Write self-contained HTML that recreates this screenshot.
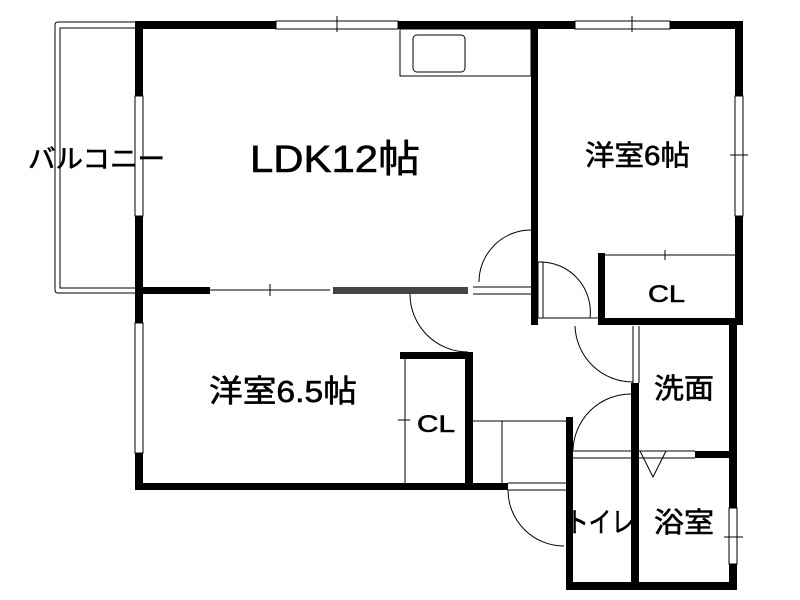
<!DOCTYPE html>
<html><head><meta charset="utf-8"><style>
html,body{margin:0;padding:0;background:#fff;width:800px;height:600px;overflow:hidden}
svg text{font-family:"Liberation Sans","Noto Sans CJK JP",sans-serif;fill:#000}
</style></head><body>
<svg width="800" height="600" viewBox="0 0 800 600" xmlns="http://www.w3.org/2000/svg">
<g fill="none" stroke="#000" stroke-width="1">
<path d="M135 22 H58 Q55 22 55 25 V290 Q55 293 58 293 H135"/>
<path d="M135 28 H60 V288 H135"/>
<rect x="400" y="29" width="131" height="47"/>
<rect x="413" y="35" width="52" height="37" rx="4"/>
<path d="M531 230 A52 52 0 0 0 479 282"/>
<path d="M410 294 A58 58 0 0 0 468 352"/>
<path d="M540 262 A50 50 0 0 1 590 318"/>
<path d="M575 326 A58 58 0 0 0 633 382"/>
<path d="M631 394 A58 58 0 0 0 573 450"/>
<path d="M508 490 A56 56 0 0 0 564 546"/>
<line x1="210" y1="290" x2="330" y2="290"/>
<line x1="472" y1="421" x2="566" y2="421"/>
<line x1="502" y1="421" x2="502" y2="483"/>
<line x1="573" y1="451" x2="695" y2="451"/>
<line x1="573" y1="458" x2="695" y2="458"/>
<polyline points="640,451 653,477 666,451"/>
<line x1="605" y1="255" x2="735" y2="255"/>
<rect x="538" y="262" width="5" height="56"/>
<line x1="540" y1="318" x2="598" y2="318"/>
<line x1="405" y1="358" x2="405" y2="483"/>
<line x1="473" y1="287" x2="531" y2="287"/>
<line x1="473" y1="294" x2="531" y2="294"/>
<line x1="508" y1="483" x2="566" y2="483"/>
<line x1="508" y1="490" x2="566" y2="490"/>
<line x1="633" y1="326" x2="633" y2="383"/>
<line x1="639" y1="326" x2="639" y2="383"/>
<rect x="276" y="21" width="122" height="8"/><line x1="337" y1="16" x2="337" y2="32"/>
<rect x="575" y="21" width="95" height="8"/><line x1="632" y1="16" x2="632" y2="32"/>
<rect x="135" y="96" width="8" height="120"/>
<rect x="735" y="96" width="8" height="120"/><line x1="730" y1="155" x2="748" y2="155"/>
<rect x="135" y="323" width="8" height="130"/>
<rect x="729" y="508" width="8" height="56"/><line x1="724" y1="537" x2="743" y2="537"/>
<line x1="270" y1="284" x2="270" y2="296"/>
<line x1="665" y1="250" x2="665" y2="260"/>
<line x1="398" y1="420" x2="410" y2="420"/>
</g>
<g fill="#000">
<rect x="135" y="21" width="141" height="8"/>
<rect x="398" y="21" width="177" height="8"/>
<rect x="670" y="21" width="73" height="8"/>
<rect x="135" y="21" width="8" height="75"/>
<rect x="135" y="216" width="8" height="107"/>
<rect x="135" y="453" width="8" height="37"/>
<rect x="735" y="21" width="8" height="75"/>
<rect x="735" y="216" width="8" height="106"/>
<rect x="531" y="21" width="7" height="304"/>
<rect x="135" y="287" width="75" height="7"/>
<rect x="333" y="287" width="135" height="7" fill="#444"/>
<rect x="598" y="253" width="7" height="72"/>
<rect x="598" y="318" width="145" height="7"/>
<rect x="400" y="352" width="72" height="7"/>
<rect x="465" y="352" width="8" height="138"/>
<rect x="135" y="483" width="373" height="7"/>
<rect x="566" y="417" width="7" height="173"/>
<rect x="566" y="582" width="171" height="8"/>
<rect x="631" y="383" width="8" height="207"/>
<rect x="729" y="318" width="8" height="190"/>
<rect x="729" y="564" width="8" height="26"/>
<rect x="695" y="451" width="42" height="7"/>
</g>
<g stroke="#000" stroke-width="0.6">
<text x="28" y="168" font-size="26" textLength="137" lengthAdjust="spacingAndGlyphs">バルコニー</text>
<text x="250" y="172" font-size="38" textLength="170" lengthAdjust="spacingAndGlyphs">LDK12帖</text>
<text x="585" y="165" font-size="28" textLength="105" lengthAdjust="spacingAndGlyphs">洋室6帖</text>
<text x="648" y="302" font-size="24" textLength="37" lengthAdjust="spacingAndGlyphs">CL</text>
<text x="209" y="402" font-size="31" textLength="148" lengthAdjust="spacingAndGlyphs">洋室6.5帖</text>
<text x="417" y="432" font-size="24" textLength="38" lengthAdjust="spacingAndGlyphs">CL</text>
<text x="654" y="398" font-size="28" textLength="60" lengthAdjust="spacingAndGlyphs">洗面</text>
<text x="566" y="532" font-size="28" textLength="68" lengthAdjust="spacingAndGlyphs">トイレ</text>
<text x="654" y="532" font-size="28" textLength="60" lengthAdjust="spacingAndGlyphs">浴室</text>
</g>
</svg>
</body></html>
